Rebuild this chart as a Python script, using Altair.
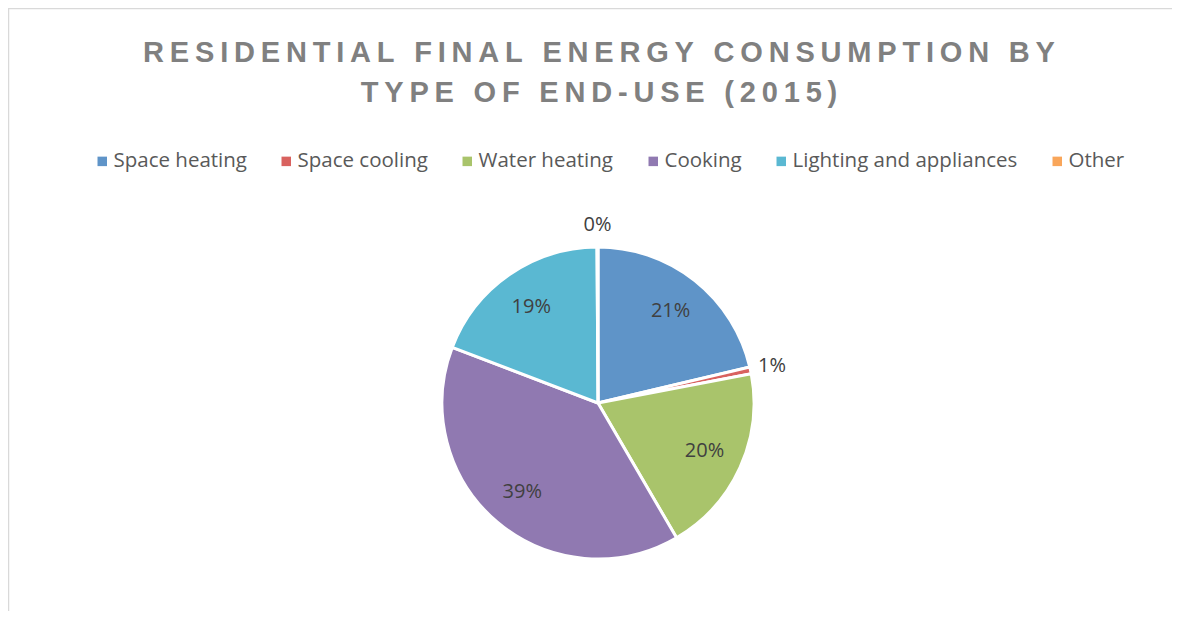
import altair as alt
import pandas as pd

# ---- data ----
categories = ["Space heating", "Space cooling", "Water heating", "Cooking",
              "Lighting and appliances", "Other"]
values = [21.3, 0.7, 19.6, 39.2, 19.1, 0.1]
colors = ["#5F94C8", "#D9625F", "#A9C46B", "#9079B1", "#5AB8D2", "#F9A65A"]
title_lines = ["RESIDENTIAL FINAL ENERGY CONSUMPTION BY", "TYPE OF END-USE (2015)"]

W, H = 1164, 603
CX, CY, R = 590, 395, 156
TS = "\u2009"  # thin space used as letter spacing


def spaced(s):
    return TS.join(list(s))


df = pd.DataFrame({"category": categories, "value": values,
                   "idx": list(range(len(categories)))})

arcs = alt.Chart(df).mark_arc(radius=R, stroke="white", strokeWidth=3).encode(
    theta=alt.Theta("value:Q", stack=True),
    order=alt.Order("idx:Q"),
    color=alt.Color("category:N",
                    scale=alt.Scale(domain=categories, range=colors),
                    sort=categories,
                    legend=alt.Legend(title=None)),
    x=alt.value(CX), y=alt.value(CY),
)

labels = alt.Chart(df).transform_joinaggregate(
    total="sum(value)"
).transform_window(
    cum="sum(value)", sort=[alt.SortField("idx")],
    frame=[None, 0]
).transform_calculate(
    pct="datum.value / datum.total",
    mid="(datum.cum - datum.value / 2) / datum.total",
    lr="datum.value < 2 ? 178 : 117",
).mark_text(font="Open Sans", fontSize=20, color="#404040").encode(
    theta=alt.Theta("mid:Q", stack=None, scale=alt.Scale(domain=[0, 1])),
    radius=alt.Radius("lr:Q", scale=None),
    text=alt.Text("pct:Q", format=".0%"),
    x=alt.value(CX), y=alt.value(CY),
)

one = pd.DataFrame({"a": [0]})
t1 = alt.Chart(one).mark_text(font="Liberation Sans", fontSize=29, fontWeight="bold",
                              color="#808080").encode(
    x=alt.value(CX + 1), y=alt.value(45), text=alt.value(spaced(title_lines[0])))
t2 = alt.Chart(one).mark_text(font="Liberation Sans", fontSize=29, fontWeight="bold",
                              color="#808080").encode(
    x=alt.value(CX + 1), y=alt.value(85), text=alt.value(spaced(title_lines[1])))

border_l = alt.Chart(one).mark_rule(color="#D9D9D9", strokeWidth=1.5).encode(
    x=alt.value(0.5), y=alt.value(0), y2=alt.value(H))
border_t = alt.Chart(one).mark_rule(color="#D9D9D9", strokeWidth=1.5).encode(
    x=alt.value(0), x2=alt.value(W), y=alt.value(0.5))

chart = alt.layer(border_l, border_t, t1, t2, arcs, labels).resolve_scale(
    theta="independent"
).properties(
    width=W, height=H,
    autosize=alt.AutoSizeParams(type="none"),
    padding=0,
).configure_view(stroke=None).configure_legend(
    orient="none", legendX=84, legendY=143, direction="horizontal",
    symbolType="square", symbolSize=90, symbolStrokeWidth=0,
    labelFont="Open Sans", labelFontSize=20.5, labelColor="#595959",
    labelLimit=0, columnPadding=29, labelOffset=1, symbolOffset=0,
)

chart.save("out.html", embed_options={"renderer": "svg", "actions": False})
